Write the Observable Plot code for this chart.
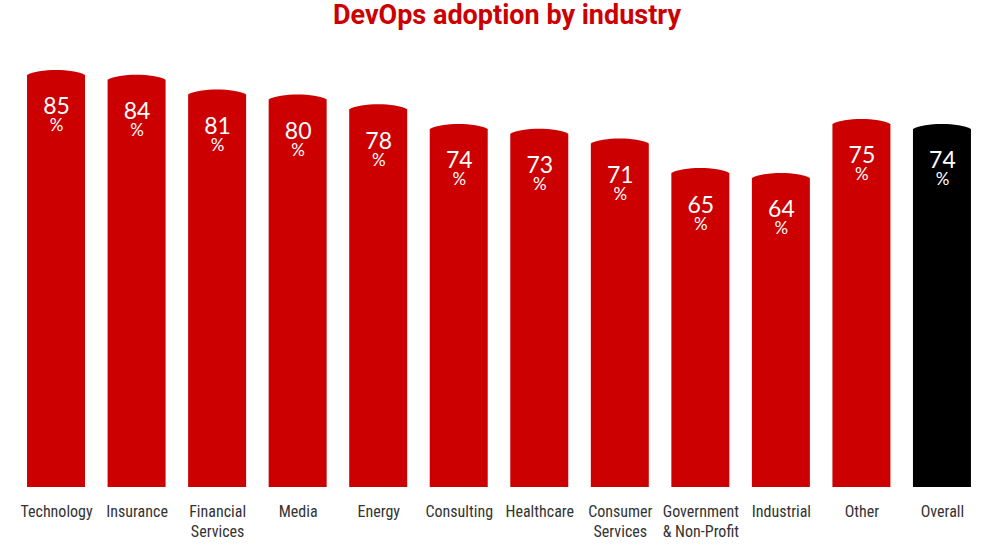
<!DOCTYPE html>
<html><head><meta charset="utf-8">
<script src="https://cdn.jsdelivr.net/npm/d3@7"></script>
<script src="https://cdn.jsdelivr.net/npm/@observablehq/plot@0.6"></script>
<style>
body{margin:0;background:#fff;}
#title{font-family:Roboto,sans-serif;font-weight:700;font-size:27px;color:#cc0000;text-align:center;height:40px;line-height:31px;padding-left:12px;}
</style></head><body>
<div id="title">DevOps adoption by industry</div>
<div id="chart"></div>
<script>
const industries = ["Technology","Insurance","Financial\nServices","Media","Energy","Consulting","Healthcare","Consumer\nServices","Government\n& Non-Profit","Industrial","Other","Overall"];
const adoption = [85,84,81,80,78,74,73,71,65,64,75,74];
const data = industries.map((name, i) => ({name, value: adoption[i]}));

const chart = Plot.plot({
  width: 1002,
  height: 519,
  marginTop: 0,
  marginBottom: 72,
  marginLeft: 4.5,
  marginRight: 8.5,
  style: {color: "#333", background: "#fff"},
  x: {domain: industries, padding: 0.28, round: false, label: null},
  y: {domain: [0, 91.1], axis: null},
  marks: [
    Plot.barY(data, {x: "name", y: "value", fill: d => d.name === "Overall" ? "#000000" : "#cc0000"}),
    Plot.text(data, {x: "name", y: "value", text: d => String(d.value), dy: 44, fill: "#fff", fontSize: 23, fontFamily: "Lato, 'DejaVu Sans', sans-serif", lineAnchor: "bottom"}),
    Plot.text(data, {x: "name", y: "value", text: () => "%", dy: 61, fill: "#fff", fontSize: 17, fontFamily: "Lato, 'DejaVu Sans', sans-serif", lineAnchor: "bottom"}),
    Plot.axisX({tickSize: 0, tickPadding: 15, fontSize: 16, lineHeight: 1.25, label: null,
      fontFamily: "'Roboto Condensed','Liberation Sans Narrow',Roboto,sans-serif"})
  ]
});
document.getElementById("chart").appendChild(chart);

// turn each bar rect into a bar with a gently arched top
const bump = 5;
chart.querySelectorAll('g[aria-label="bar"] rect').forEach(r => {
  const x = +r.getAttribute("x"), y = +r.getAttribute("y");
  const w = +r.getAttribute("width"), h = +r.getAttribute("height");
  const p = document.createElementNS("http://www.w3.org/2000/svg", "path");
  const yb = y + h, ys = y + bump, yc = y - bump / 3;
  p.setAttribute("d", `M${x},${yb}L${x},${ys}C${x + w * 0.2},${yc} ${x + w * 0.8},${yc} ${x + w},${ys}L${x + w},${yb}Z`);
  if (r.getAttribute("fill")) p.setAttribute("fill", r.getAttribute("fill"));
  r.replaceWith(p);
});
</script>
</body></html>
